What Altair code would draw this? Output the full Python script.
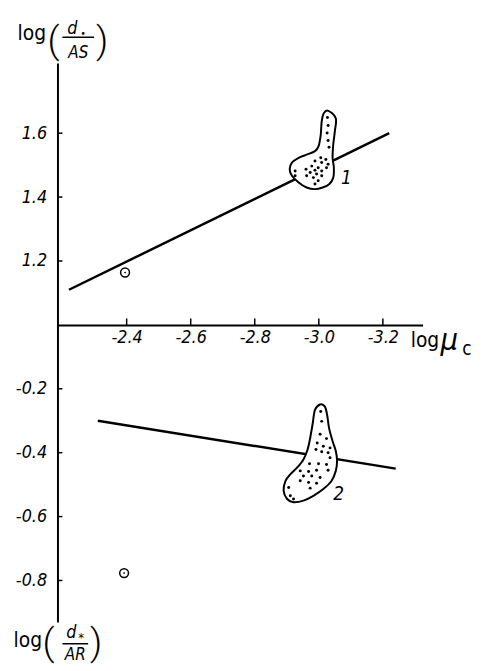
import altair as alt
import pandas as pd

FONT = "Liberation Sans Narrow, DejaVu Sans Condensed, Liberation Sans, sans-serif"
PAREN_FONT = "Roboto, Lato, DejaVu Sans, sans-serif"

# ---------------- data ----------------
x_ticks = [-2.4, -2.6, -2.8, -3.0, -3.2]
y_ticks_upper = [1.2, 1.4, 1.6]
y_ticks_lower = [-0.2, -0.4, -0.6, -0.8]

# regression lines
line1_x = [-2.22, -3.22]
line1_y = [1.11, 1.60]
line2_x = [-2.31, -3.24]
line2_y = [-0.30, -0.45]

# single circled points
pt1_x = [-2.395]
pt1_y = [1.164]
pt2_x = [-2.392]
pt2_y = [-0.777]

# region 1 outline (upper panel)
blob1_x = [-3.030, -3.053, -3.050, -3.045, -3.043, -3.047, -3.045, -3.033, -3.012, -2.988,
           -2.962, -2.937, -2.916, -2.909, -2.916, -2.937, -2.962, -2.988, -2.999, -3.006,
           -3.009, -3.016]
blob1_y = [1.670, 1.647, 1.606, 1.564, 1.523, 1.492, 1.461, 1.441, 1.430, 1.425,
           1.430, 1.446, 1.467, 1.487, 1.508, 1.523, 1.533, 1.544, 1.559, 1.595,
           1.637, 1.663]
# region 1 scatter
dots1_x = [-3.027, -3.029, -3.026, -3.029, -3.032, -3.006, -3.022, -2.988, -3.009, -3.029,
           -2.978, -2.998, -3.024, -2.960, -2.988, -3.009, -2.926, -2.973, -2.993, -2.926,
           -2.962, -3.009, -2.983, -2.998, -2.988]
dots1_y = [1.649, 1.624, 1.601, 1.577, 1.556, 1.523, 1.518, 1.513, 1.508, 1.503,
           1.497, 1.492, 1.492, 1.487, 1.484, 1.482, 1.482, 1.477, 1.472, 1.467,
           1.467, 1.467, 1.461, 1.451, 1.441]

# region 2 outline (lower panel)
blob2_x = [-3.004, -3.019, -3.026, -3.032, -3.043, -3.053, -3.057, -3.053, -3.040, -3.014,
           -2.983, -2.952, -2.921, -2.901, -2.890, -2.896, -2.911, -2.932, -2.952, -2.965,
           -2.973, -2.981, -2.988]
blob2_y = [-0.249, -0.256, -0.282, -0.323, -0.364, -0.395, -0.426, -0.457, -0.488, -0.514,
           -0.535, -0.550, -0.555, -0.545, -0.519, -0.488, -0.468, -0.447, -0.421, -0.390,
           -0.354, -0.308, -0.266]
dots2_x = [-3.006, -3.009, -3.004, -3.024, -2.995, -3.014, -3.035, -2.991, -3.009, -3.029,
           -3.035, -2.971, -2.999, -3.024, -2.942, -2.968, -2.993, -2.952, -2.978, -3.004,
           -3.029, -2.942, -2.968, -2.993, -2.973, -2.906, -2.911, -2.921]
dots2_y = [-0.271, -0.302, -0.342, -0.356, -0.370, -0.380, -0.385, -0.390, -0.397, -0.400,
           -0.416, -0.435, -0.435, -0.437, -0.457, -0.459, -0.455, -0.473, -0.473, -0.478,
           -0.455, -0.488, -0.493, -0.496, -0.511, -0.509, -0.535, -0.545]

curve_labels = ["1", "2"]
curve_label_x = [-3.086, -3.062]
curve_label_y = [1.461, -0.529]


def frame(xs, ys, panel):
    return pd.DataFrame({"x": xs, "y": ys, "panel": panel, "order": list(range(len(xs)))})


SHIFT = "datum.panel == 'upper' ? datum.y - 1 : datum.y"

W, H = 369, 565
Y_LO, Y_HI = -0.93, 0.82
zero_from_bottom = H * (0 - Y_LO) / (Y_HI - Y_LO)

xscale = alt.Scale(domain=[-3.324, -2.184], reverse=True, nice=False, zero=False)
yscale = alt.Scale(domain=[Y_LO, Y_HI], nice=False, zero=False)

xaxis = alt.Axis(orient="bottom", offset=-zero_from_bottom, values=x_ticks,
                 labelExpr="'-' + format(abs(datum.value), '.1f')",
                 ticks=False, grid=False, domainColor="black", domainWidth=2,
                 labelFontSize=18, labelFontStyle="italic", labelFont=FONT,
                 labelColor="black", labelPadding=4, title=None)
yaxis = alt.Axis(orient="left",
                 values=[v - 1 for v in y_ticks_upper] + y_ticks_lower,
                 labelExpr="datum.value > 0 ? format(datum.value + 1, '.1f') : '-' + format(abs(datum.value), '.1f')",
                 ticks=False, grid=False, domainColor="black", domainWidth=2,
                 labelFontSize=18, labelFontStyle="italic", labelFont=FONT,
                 labelColor="black", labelPadding=11, title=None)

X = alt.X("x:Q", scale=xscale, axis=xaxis)
Y = alt.Y("ys:Q", scale=yscale, axis=yaxis)

line_df = pd.concat([frame(line1_x, line1_y, "upper").assign(g="a"),
                     frame(line2_x, line2_y, "lower").assign(g="b")])
lines = alt.Chart(line_df).transform_calculate(ys=SHIFT).mark_line(
    color="black", strokeWidth=2.5).encode(x=X, y=Y, detail="g:N", order="order:Q")

blob1 = alt.Chart(frame(blob1_x, blob1_y, "upper")).transform_calculate(ys=SHIFT).mark_line(
    interpolate="cardinal-closed", stroke="black", strokeWidth=2, fill="white").encode(
    x=X, y=Y, order="order:Q")
blob2 = alt.Chart(frame(blob2_x, blob2_y, "lower")).transform_calculate(ys=SHIFT).mark_line(
    interpolate="cardinal-closed", stroke="black", strokeWidth=2, fill="white").encode(
    x=X, y=Y, order="order:Q")

dots_df = pd.concat([frame(dots1_x, dots1_y, "upper"), frame(dots2_x, dots2_y, "lower")])
dots = alt.Chart(dots_df).transform_calculate(ys=SHIFT).mark_circle(
    size=9, color="black", opacity=1).encode(x=X, y=Y)

pts_df = pd.concat([frame(pt1_x, pt1_y, "upper"), frame(pt2_x, pt2_y, "lower")])
pts = alt.Chart(pts_df).transform_calculate(ys=SHIFT).mark_point(
    shape="circle", size=80, filled=False, color="black", strokeWidth=1.5, opacity=1).encode(x=X, y=Y)
pts_c = alt.Chart(pts_df).transform_calculate(ys=SHIFT).mark_circle(
    size=3, color="black", opacity=1).encode(x=X, y=Y)

# inward ticks
ytick_df = pd.concat([pd.DataFrame({"y": y_ticks_upper, "panel": "upper"}),
                      pd.DataFrame({"y": y_ticks_lower, "panel": "lower"})])
yticks = alt.Chart(ytick_df).transform_calculate(ys=SHIFT).mark_rule(
    color="black", strokeWidth=1.5).encode(y=Y, x=alt.value(0), x2=alt.value(5))
xtick_df = pd.DataFrame({"x": x_ticks, "y": [0.0] * len(x_ticks), "panel": "lower"})
xticks = alt.Chart(xtick_df).transform_calculate(ys=SHIFT, ys2="datum.ys + 0.02").mark_rule(
    color="black", strokeWidth=1.5).encode(x=X, y=Y, y2="ys2:Q")

cl_df = pd.DataFrame({"x": curve_label_x, "y": curve_label_y, "t": curve_labels,
                      "panel": ["upper", "lower"]})
clabels = alt.Chart(cl_df).transform_calculate(ys=SHIFT).mark_text(
    fontSize=19, fontStyle="italic", font=FONT, color="black").encode(x=X, y=Y, text="t:N")

dummy = pd.DataFrame({"a": [0]})


def label(text, px, py, size, style="normal", align="center", baseline="middle",
          weight="normal", font=FONT):
    return alt.Chart(dummy).mark_text(
        fontSize=size, fontStyle=style, font=font, color="black", align=align,
        baseline=baseline, fontWeight=weight).encode(
        x=alt.value(px), y=alt.value(py), text=alt.value(text))


def rule(px1, px2, py):
    return alt.Chart(dummy).mark_rule(color="black", strokeWidth=1.5).encode(
        x=alt.value(px1), x2=alt.value(px2), y=alt.value(py))


annotations = [
    # upper y title: log(d*/AS)
    label("log", -26, -23, 21, baseline="alphabetic"),
    label("(", -4, -21, 38, weight=300, font=PAREN_FONT),
    label("d", 15, -34, 18, style="italic"),
    label("•", 26, -29, 10),
    rule(5, 37, -26),
    label("AS", 21, -10, 17, style="italic"),
    label(")", 45, -21, 38, weight=300, font=PAREN_FONT),
    # lower y title: log(d*/AR)
    label("log", -30, 590, 21, baseline="alphabetic"),
    label("(", -9, 587, 38, weight=300, font=PAREN_FONT),
    label("d", 14, 576, 18, style="italic"),
    label("*", 24, 581, 13),
    rule(5, 31, 587),
    label("AR", 18, 598, 17, style="italic"),
    label(")", 39, 587, 38, weight=300, font=PAREN_FONT),
    # x title: log μc
    label("log", 357, 287, 21, align="left", baseline="alphabetic"),
    label("μ", 387, 290, 31, style="italic", align="left", baseline="alphabetic"),
    label("c", 409, 295, 19, align="left", baseline="alphabetic"),
]

chart = alt.layer(lines, blob1, blob2, dots, pts, pts_c, yticks, xticks, clabels,
                  *annotations).properties(
    width=W, height=H,
    background="white",
    autosize=alt.AutoSizeParams(type="none"),
    padding={"left": 50, "top": 52, "right": 56, "bottom": 45},
).configure_view(stroke=None, strokeWidth=0)

chart.save("out.html", embed_options={"renderer": "svg", "actions": False})
